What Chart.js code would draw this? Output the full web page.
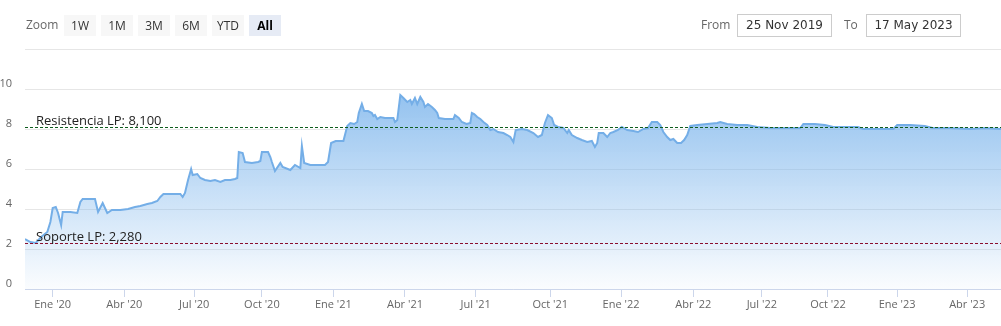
<!DOCTYPE html>
<html>
<head>
<meta charset="utf-8">
<script src="https://cdn.jsdelivr.net/npm/chart.js@4.4.0/dist/chart.umd.min.js"></script>
<style>
  html, body { margin: 0; padding: 0; background: #fff; }
  #wrap { position: relative; width: 1001px; height: 326px; overflow: hidden; }
  #myChart { position: absolute; left: 0; top: 0; }
  .lbl { position: absolute; top: 16px; font: 12px 'Open Sans', sans-serif; color: #666; line-height: 18px; }
  .btn { position: absolute; top: 15px; width: 32px; height: 21px; background: #f7f7f7; font: 12px 'Open Sans', sans-serif; color: #333; text-align: center; line-height: 21px; }
  .btn.on { background: #e6ebf5; font-weight: bold; color: #000; }
  .box { position: absolute; top: 14px; width: 93px; height: 21px; border: 1px solid #ccc; font: 12px 'DejaVu Sans', sans-serif; color: #333; text-align: center; line-height: 21px; }
</style>
</head>
<body>
<div id="wrap">
  <canvas id="myChart" width="1001" height="326"></canvas>
  <div class="lbl" style="left:26px">Zoom</div>
  <div class="btn" style="left:64px">1W</div>
  <div class="btn" style="left:101px">1M</div>
  <div class="btn" style="left:138px">3M</div>
  <div class="btn" style="left:175px">6M</div>
  <div class="btn" style="left:212px">YTD</div>
  <div class="btn on" style="left:249px">All</div>
  <div class="lbl" style="left:701px">From</div>
  <div class="box" style="left:737px">25 Nov 2019</div>
  <div class="lbl" style="left:844px">To</div>
  <div class="box" style="left:866px">17 May 2023</div>
</div>
<script>
// price series (dates + values)
const dates = [
  '2019-11-25','2019-12-02','2019-12-09','2019-12-16','2019-12-24','2019-12-28','2019-12-31',
  '2020-01-04','2020-01-07','2020-01-11','2020-01-13','2020-01-23','2020-02-01','2020-02-05','2020-02-08','2020-02-18','2020-02-24','2020-02-28',
  '2020-03-05','2020-03-11','2020-03-17','2020-03-28','2020-04-07','2020-04-16','2020-04-23','2020-05-02','2020-05-08','2020-05-15','2020-05-19','2020-05-23',
  '2020-06-03','2020-06-14','2020-06-17','2020-06-20','2020-06-24','2020-06-28','2020-06-30','2020-07-06','2020-07-10','2020-07-16','2020-07-23','2020-07-29','2020-08-05','2020-08-11','2020-08-18','2020-08-24','2020-08-27','2020-08-29',
  '2020-09-03','2020-09-06','2020-09-15','2020-09-23','2020-09-26','2020-09-28','2020-10-06','2020-10-09','2020-10-11','2020-10-15','2020-10-22','2020-10-25','2020-11-04','2020-11-10','2020-11-17','2020-11-19','2020-11-22','2020-11-30','2020-12-10','2020-12-19','2020-12-23','2020-12-27',
  '2021-01-02','2021-01-12','2021-01-17','2021-01-21','2021-01-26','2021-01-30','2021-02-01','2021-02-05','2021-02-08','2021-02-13','2021-02-18','2021-02-20','2021-02-22','2021-02-25','2021-03-01','2021-03-07','2021-03-18','2021-03-20','2021-03-23','2021-03-27','2021-03-31',
  '2021-04-05','2021-04-09','2021-04-11','2021-04-15','2021-04-18','2021-04-22','2021-04-26','2021-04-28','2021-05-02','2021-05-07','2021-05-11','2021-05-14','2021-05-16','2021-05-24','2021-06-04','2021-06-06','2021-06-11','2021-06-15','2021-06-21','2021-06-26','2021-06-28',
  '2021-07-01','2021-07-05','2021-07-09','2021-07-13','2021-07-18','2021-07-22','2021-07-26','2021-08-01','2021-08-08','2021-08-13','2021-08-17','2021-08-21','2021-08-24','2021-09-01','2021-09-08','2021-09-16','2021-09-22','2021-09-27',
  '2021-10-01','2021-10-05','2021-10-10','2021-10-13','2021-10-18','2021-10-25','2021-10-30','2021-11-01','2021-11-05','2021-11-12','2021-11-18','2021-11-25','2021-12-01','2021-12-05','2021-12-08','2021-12-10','2021-12-16','2021-12-21','2021-12-25','2021-12-29',
  '2022-01-04','2022-01-09','2022-01-16','2022-01-24','2022-01-30','2022-02-06','2022-02-12','2022-02-17','2022-02-24','2022-02-28','2022-03-04','2022-03-09','2022-03-13','2022-03-17','2022-03-22','2022-03-27','2022-03-31','2022-04-04','2022-04-08','2022-04-17','2022-04-30',
  '2022-05-13','2022-05-17','2022-05-26','2022-06-08','2022-06-21','2022-07-04','2022-07-21','2022-08-09','2022-08-29','2022-09-02','2022-09-17','2022-09-30','2022-10-11','2022-10-26','2022-11-12','2022-11-19','2022-12-11','2022-12-28',
  '2023-01-02','2023-01-19','2023-02-07','2023-02-17','2023-03-12','2023-04-07','2023-04-26','2023-05-17'
]
const prices = [
  2.5, 2.35, 2.3, 2.6, 2.85, 3.35, 4.05,
  4.1, 3.8, 3.2, 3.85, 3.85, 3.8, 4.35, 4.5, 4.5, 4.5, 3.85,
  4.3, 3.8, 3.95, 3.95, 4.0, 4.1, 4.15, 4.25, 4.3, 4.4, 4.6, 4.75,
  4.75, 4.75, 4.6, 4.8, 5.45, 6.0, 5.7, 5.75, 5.55, 5.45, 5.4, 5.45, 5.35, 5.45, 5.45, 5.5, 5.55, 6.85,
  6.8, 6.35, 6.3, 6.35, 6.4, 6.85, 6.85, 6.6, 6.35, 5.9, 6.3, 6.1, 5.95, 6.2, 6.05, 7.15, 6.3, 6.2, 6.2, 6.2, 6.35, 7.3,
  7.4, 7.4, 8.15, 8.3, 8.25, 8.35, 8.8, 9.25, 8.9, 8.9, 8.8, 8.65, 8.7, 8.5, 8.6, 8.55, 8.55, 8.35, 8.45, 9.7, 9.55,
  9.35, 9.45, 9.25, 9.55, 9.25, 9.6, 9.35, 9.1, 9.25, 9.1, 8.95, 8.8, 8.55, 8.5, 8.5, 8.7, 8.55, 8.35, 8.25, 8.3, 8.8,
  8.75, 8.6, 8.5, 8.35, 8.2, 7.95, 8.0, 7.85, 7.8, 7.7, 7.6, 7.35, 7.95, 8.0, 7.95, 7.8, 7.6, 7.7,
  8.3, 8.7, 8.55, 8.2, 8.1, 8.05, 7.8, 7.95, 7.7, 7.55, 7.45, 7.35, 7.4, 7.1, 7.3, 7.8, 7.8, 7.6, 7.8, 7.85,
  7.95, 8.1, 7.95, 7.9, 7.85, 8.0, 8.05, 8.35, 8.35, 8.2, 7.85, 7.6, 7.45, 7.5, 7.3, 7.3, 7.45, 7.7, 8.15, 8.2, 8.25,
  8.3, 8.35, 8.25, 8.2, 8.2, 8.1, 8.05, 8.05, 8.05, 8.25, 8.25, 8.2, 8.1, 8.1, 8.1, 8.0, 8.0, 8.0,
  8.2, 8.2, 8.15, 8.05, 8.05, 8.0, 8.05, 8.0
]

const rangeStart = '2019-11-25', rangeEnd = '2023-05-17'
const tickDates = ['2019-12-31','2020-04-02','2020-07-02','2020-09-28','2020-12-30','2021-04-02','2021-07-03',
  '2021-10-08','2022-01-08','2022-04-12','2022-07-10','2022-10-04','2023-01-02','2023-04-03']
const tickLabels = ["Ene '20","Abr '20","Jul '20","Oct '20","Ene '21","Abr '21","Jul '21",
  "Oct '21","Ene '22","Abr '22","Jul '22","Oct '22","Ene '23","Abr '23"]

// support / resistance levels
const levels = [8.1, 2.28]
const levelLabels = ['Resistencia LP: 8,100', 'Soporte LP: 2,280']
const levelColors = ['#0d5c1c', '#8a0f2e']

const yTicks = [0, 2, 4, 6, 8, 10, 12]

const t = s => Date.parse(s + 'T00:00:00Z')

// draw the dashed level lines + their labels
const levelLines = {
  id: 'levelLines',
  afterDatasetsDraw(chart) {
    const { ctx, chartArea, scales: { y } } = chart
    levels.forEach((v, i) => {
      const py = Math.round(y.getPixelForValue(v)) + 0.5
      ctx.save()
      ctx.strokeStyle = levelColors[i]
      ctx.lineWidth = 1
      ctx.setLineDash([3, 2])
      ctx.beginPath()
      ctx.moveTo(chartArea.left, py)
      ctx.lineTo(chartArea.right, py)
      ctx.stroke()
      ctx.setLineDash([])
      ctx.fillStyle = '#222'
      ctx.font = "13px 'Open Sans'"
      ctx.textBaseline = 'alphabetic'
      ctx.fillText(levelLabels[i], chartArea.left + 11, py - 3)
      ctx.restore()
    })
  }
}

Chart.defaults.font.family = "'Open Sans', sans-serif"
Chart.defaults.font.size = 11
Chart.defaults.color = '#666'

const ctx = document.getElementById('myChart').getContext('2d')
const myChart = new Chart(ctx, {
  type: 'line',
  data: {
    datasets: [{
      data: dates.map((d, i) => ({ x: t(d), y: prices[i] })),
      borderColor: '#74aee7',
      borderWidth: 2,
      pointRadius: 0,
      tension: 0,
      fill: 'origin',
      backgroundColor: (c) => {
        const a = c.chart.chartArea
        if (!a) return 'rgba(124,181,236,0.5)'
        const g = c.chart.ctx.createLinearGradient(0, a.top, 0, a.bottom)
        g.addColorStop(0, 'rgba(124,181,236,1)')
        g.addColorStop(1, 'rgba(124,181,236,0.03)')
        return g
      }
    }]
  },
  options: {
    responsive: false,
    animation: false,
    devicePixelRatio: 1,
    layout: { padding: { top: 49, left: 0, right: 0, bottom: 0 } },
    plugins: { legend: { display: false }, tooltip: { enabled: false } },
    scales: {
      x: {
        type: 'linear',
        min: t(rangeStart),
        max: t(rangeEnd),
        afterBuildTicks: (s) => { s.ticks = tickDates.map(d => ({ value: t(d) })) },
        afterFit: (s) => { s.height = 37 },
        ticks: {
          autoSkip: false,
          maxRotation: 0,
          padding: 1,
          callback: (v, i) => tickLabels[i]
        },
        grid: { drawOnChartArea: false, color: '#ccd6eb', tickLength: 8 },
        border: { color: '#ccd6eb' }
      },
      y: {
        min: 0,
        max: 12,
        afterBuildTicks: (s) => { s.ticks = yTicks.map(v => ({ value: v })) },
        afterFit: (s) => { s.width = 25 },
        ticks: {
          padding: 13,
          labelOffset: -5,
          callback: (v) => v === 12 ? '' : v
        },
        grid: { color: '#e6e6e6', drawTicks: false },
        border: { display: false }
      }
    }
  },
  plugins: [levelLines]
})
</script>
</body>
</html>
